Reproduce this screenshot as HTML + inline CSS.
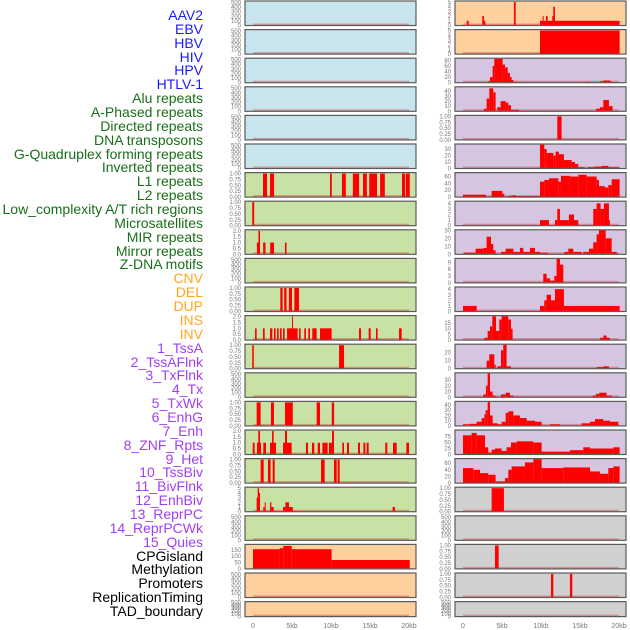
<!DOCTYPE html>
<html><head><meta charset="utf-8">
<style>
html,body{margin:0;padding:0;background:#fff;}
#wrap{position:relative;width:630px;height:630px;overflow:hidden;font-family:"Liberation Sans",sans-serif;}
.lab{position:absolute;right:427px;font-size:14px;line-height:14px;white-space:nowrap;}
</style></head>
<body>
<div id="wrap">
<svg id="chart" width="630" height="630" style="position:absolute;left:0;top:0"></svg>
</div>
<script>
// ---- labels ----
const labelNames = ["AAV2","EBV","HBV","HIV","HPV","HTLV-1","Alu repeats","A-Phased repeats","Directed repeats","DNA transposons","G-Quadruplex forming repeats","Inverted repeats","L1 repeats","L2 repeats","Low_complexity A/T rich regions","Microsatellites","MIR repeats","Mirror repeats","Z-DNA motifs","CNV","DEL","DUP","INS","INV","1_TssA","2_TssAFlnk","3_TxFlnk","4_Tx","5_TxWk","6_EnhG","7_Enh","8_ZNF_Rpts","9_Het","10_TssBiv","11_BivFlnk","12_EnhBiv","13_ReprPC","14_ReprPCWk","15_Quies","CPGisland","Methylation","Promoters","ReplicationTiming","TAD_boundary"];
const labelGroups = [0,0,0,0,0,0,1,1,1,1,1,1,1,1,1,1,1,1,1,2,2,2,2,2,3,3,3,3,3,3,3,3,3,3,3,3,3,3,3,4,4,4,4,4];
const groupColors = ["#1a1aff","#1a6e1a","#ffa520","#a040f0","#000000"];

// ---- x axis ----
const xTicks = [0,5,10,15,20];
const xTickLabels = ["0","5kb","10kb","15kb","20kb"];

// ---- left column panels: [start_kb, end_kb, value] ----
const E500 = [0,100,200,300,400,500];
const T1 = [0,0.25,0.5,0.75,1.0];
const T1L = ["0.00","0.25","0.50","0.75","1.00"];
const T2 = [0,0.5,1,1.5,2];
const T2L = ["0.0","0.5","1.0","1.5","2.0"];

const leftBg = ["#c8e4ec","#c8e4ec","#c8e4ec","#c8e4ec","#c8e4ec","#c8e4ec","#c8e1a4","#c8e1a4","#c8e1a4","#c8e1a4","#c8e1a4","#c8e1a4","#c8e1a4","#c8e1a4","#c8e1a4","#c8e1a4","#c8e1a4","#c8e1a4","#c8e1a4","#fdd09e","#fdd09e","#fdd09e"];
const leftYmax = [520,520,520,520,520,520,1.02,1.02,2.04,520,1.02,2.04,1.02,520,1.02,2.04,1.02,5.1,520,189,520,520];
const leftTicks = [E500,E500,E500,E500,E500,E500,T1,T1,T2,E500,T1,T2,T1,E500,T1,T2,T1,[0,1,2,3,4,5],E500,[0,50,100,150],E500,E500];
const leftTickLabels = [null,null,null,null,null,null,T1L,T1L,T2L,null,T1L,T2L,T1L,null,T1L,T2L,T1L,null,null,null,null,null];
const leftBars = [
 [],[],[],[],[],[],
 [[1.28,1.8,1],[2.18,2.7,1],[9.87,10.1,1],[11.4,11.9,1],[12.8,13.6,1],[14.1,14.6,1],[14.9,15.9,1],[16.3,16.9,1],[19.1,19.5,1],[19.6,20.1,1]],
 [[-0.1,0.15,1]],
 [[0.5,0.8,1],[0.7,0.9,2],[1.3,1.6,1],[2.2,2.7,1],[4.1,4.3,1]],
 [],
 [[3.5,3.8,1],[4.0,4.3,1],[4.6,5.0,1],[5.3,5.9,1]],
 [[0.26,0.47,1],[1.28,1.5,1],[2.18,2.48,1],[2.69,2.9,1],[3.08,3.29,1],[3.46,3.67,1],[3.85,4.06,1],[4.36,5.73,1],[5.0,5.12,2],[5.9,6.11,1],[6.58,6.79,1],[7.09,7.31,1],[7.6,8.16,1],[8.59,10.08,1],[13.59,13.85,1],[14.83,15.09,1],[15.77,15.98,1],[18.72,19.06,1]],
 [[-0.1,0.1,1],[11.03,11.67,1]],
 [],
 [[0.47,0.98,1],[2.3,2.69,1],[4.1,5.1,1],[8.16,8.59,1],[10.1,10.4,1]],
 [[-0.04,0.21,1],[0.51,1.03,1],[0.68,0.9,2],[1.32,1.67,1],[2.18,2.95,1],[2.44,2.65,2],[3.85,4.96,1],[4.1,4.36,2],[6.79,7.05,1],[7.56,7.86,1],[8.29,8.59,1],[8.89,9.57,1],[9.74,10.38,1],[10.13,10.38,2],[11.45,11.67,1],[12.05,12.31,1],[13.46,13.72,1],[14.15,14.4,1],[14.57,14.83,1],[16.96,17.22,1],[17.95,18.42,1],[19.66,20.0,1]],
 [[0.98,1.37,1],[1.92,2.26,1],[2.52,2.78,1],[8.72,9.19,1],[10.38,10.73,1],[10.85,11.11,1]],
 [[0.47,0.64,3],[0.6,0.77,5],[0.77,0.9,4],[1.32,1.5,1],[1.5,1.62,2],[2.18,2.35,2],[2.35,2.65,1],[3.85,4.15,1],[4.15,4.62,2],[4.62,5.1,1],[17.9,18.2,1]],
 [],
 [[0,3.41,155],[3.41,3.89,163],[3.89,4.96,181],[4.96,10.08,155],[10.08,20.1,70]],
 [],[]
];

// ---- right column panels ----
const rightBg = ["#fdd09e","#fdd09e","#d5c5e1","#d5c5e1","#d5c5e1","#d5c5e1","#d5c5e1","#d5c5e1","#d5c5e1","#d5c5e1","#d5c5e1","#d5c5e1","#d5c5e1","#d5c5e1","#d5c5e1","#d5c5e1","#d5c5e1","#d0d0d0","#d0d0d0","#d0d0d0","#d0d0d0","#d0d0d0"];
const rightYmax = [5.1,5.1,86,47,1.02,37,70,4.3,30,10.5,4.3,21,30,42,46,100,72,1.02,520,1.02,1.02,520];
const rightTicks = [[0,1,2,3,4,5],[0,1,2,3,4,5],[0,20,40,60,80],[0,10,20,30,40],T1,[0,10,20,30],[0,20,40,60],[0,1,2,3,4],[0,10,20,30],[0,3,6,9],[0,1,2,3,4],[0,5,10,15],[0,10,20],[0,10,20,30],[0,10,20,30,40],[0,25,50,75],[0,20,40,60],T1,E500,T1,T1,E500];
const rightTickLabels = [null,null,null,null,T1L,null,null,null,null,null,null,null,null,null,null,null,null,T1L,null,T1L,T1L,null];
const rightBars = [
 [[0.47,0.73,1],[2.47,2.69,2],[2.69,2.86,1],[6.53,6.75,5],[9.87,20.08,1],[10.21,10.34,2],[10.64,10.85,2],[11.45,11.66,2],[11.58,11.79,4]],
 [[9.87,20.08,5]],
 [[3.16,3.46,5],[3.46,3.8,20],[3.8,4.01,60],[4.01,5.08,86],[5.08,5.38,65],[5.38,5.72,55],[5.72,6.02,35],[6.02,6.23,20],[6.23,6.45,10],[6.45,7.52,3],[15.76,16.41,3],[17.56,17.99,5],[17.99,18.84,8],[18.84,19.06,5]],
 [[2.69,3.03,5],[3.03,3.37,25],[3.37,3.88,45],[3.88,4.18,37],[4.4,4.82,8],[4.82,5.47,20],[5.47,5.81,17],[5.81,6.15,12],[6.15,7.18,3],[17.05,17.56,5],[17.56,17.99,8],[17.99,18.71,22],[18.71,19.18,10]],
 [[12.09,12.64,1]],
 [[9.87,10.42,37],[10.42,10.72,30],[10.72,11.58,24],[11.58,11.88,20],[11.88,12.3,26],[12.3,12.94,22],[12.94,13.93,13],[13.93,14.35,10],[14.35,14.78,7],[14.78,15.63,2],[15.98,16.92,2],[16.92,17.77,3],[17.77,18.63,4],[18.63,20.08,2]],
 [[0,2.94,7],[3.67,5.04,18],[5.04,5.29,10],[5.81,6.23,3],[6.23,6.79,5],[6.79,9.87,3],[9.87,10.42,45],[10.42,11.02,50],[11.02,12.22,55],[12.22,12.56,45],[12.56,13.71,62],[13.71,14.78,60],[14.78,15.85,65],[15.85,17.13,60],[17.13,17.43,50],[17.43,18.2,32],[18.2,18.63,28],[18.63,19.06,35],[19.06,20.08,52]],
 [[9.87,11.02,1],[11.79,12.09,1],[12.09,12.43,3],[12.43,13.58,1],[13.58,14.23,2],[14.23,14.78,1],[16.7,17.13,3],[17.13,17.64,4],[17.64,18.07,3],[18.07,18.71,4],[18.71,18.84,1]],
 [[0.12,1.62,2],[1.62,2.6,7],[2.6,3.03,8],[3.03,3.59,22],[3.59,3.88,13],[3.88,4.18,5],[4.87,5.47,3],[5.47,6.45,7],[6.45,7.3,3],[7.3,7.73,8],[7.73,8.58,3],[8.58,9.23,8],[9.23,9.87,3],[9.87,10.85,2],[12.99,13.5,3],[13.5,14.14,7],[14.14,15.21,3],[15.42,16.15,3],[16.15,16.7,7],[16.7,17.13,15],[17.13,17.43,25],[17.43,18.29,30],[18.29,19.06,20],[19.06,19.7,3]],
 [[10.29,10.72,4],[10.72,11.15,2],[11.15,11.7,1],[11.7,12.0,3],[12.0,12.43,10.5],[12.43,12.86,8]],
 [[0,1.75,1],[9.87,10.42,1],[10.42,10.72,2],[10.72,11.28,3],[11.28,11.79,2],[11.79,12.94,4],[12.94,20.08,1]],
 [[2.73,3.16,2],[3.16,3.46,8],[3.46,3.76,12],[3.76,4.23,21],[4.23,4.65,8],[4.65,4.95,18],[4.95,5.81,21],[5.81,6.15,18],[6.15,6.36,10],[17.56,17.99,2],[17.99,18.41,4],[18.41,18.84,2]],
 [[3.03,3.37,10],[3.37,4.01,18],[4.01,4.18,5],[4.4,4.87,3],[4.87,5.16,23],[5.16,5.59,30],[5.59,6.15,3],[17.13,17.99,2],[17.99,18.71,3]],
 [[2.6,2.94,5],[2.94,3.16,20],[3.16,3.46,42],[3.46,3.8,10],[3.8,4.18,3],[4.87,5.47,5],[5.47,6.02,8],[6.02,6.45,3],[10.29,11.49,1],[16.62,17.05,3],[17.05,17.47,6],[17.47,18.41,8],[18.41,19.06,3]],
 [[0,0.89,3],[0.89,1.75,4],[1.75,2.39,8],[2.39,2.73,15],[2.73,2.9,22],[2.9,3.16,30],[3.16,3.46,46],[3.46,3.8,20],[3.8,4.44,5],[4.44,4.95,3],[4.95,5.47,8],[5.47,5.81,25],[5.81,6.45,28],[6.45,7.3,20],[7.3,8.16,15],[8.16,9.23,10],[9.23,10.08,8],[10.08,11.15,1],[11.15,12.43,3],[12.43,15.21,1],[15.21,16.28,5],[16.28,16.92,8],[16.92,17.99,13],[17.99,18.84,10],[18.84,19.91,8]],
 [[0,1.11,80],[1.11,1.75,90],[1.75,2.82,80],[2.82,3.24,30],[3.24,3.67,8],[3.67,4.1,20],[4.1,4.95,25],[4.95,5.59,15],[5.59,6.15,30],[6.15,6.88,50],[6.88,9.01,55],[9.01,10.08,50],[10.08,13.71,12],[13.71,15.42,18],[15.42,16.28,30],[16.28,19.27,25],[19.27,20.08,30]],
 [[0,1.32,45],[1.32,2.18,40],[2.18,3.24,30],[3.24,4.18,25],[4.18,5.38,5],[5.38,5.81,15],[5.81,6.23,40],[6.23,7.94,50],[7.94,9.01,62],[9.01,10.08,72],[10.08,12.86,45],[12.86,16.28,47],[16.28,17.56,35],[17.56,18.63,28],[18.63,19.27,45],[19.27,20.08,50]],
 [[3.67,5.25,1]],
 [],
 [[4.1,4.57,1]],
 [[11.28,11.58,1],[13.71,14.01,1]],
 []
];

// ---- render ----
const NS = "http://www.w3.org/2000/svg";
const svg = document.getElementById("chart");
const wrap = document.getElementById("wrap");
const PX_PER_KB = 7.8;
const colX = [{left:245,right:416,zero:253},{left:455,right:626,zero:463}];
function rowTop(i){ return 1 + i*28.6; }
function rowH(i){ return i===21 ? 15 : 24.5; }
function xScale(col,kb){ return colX[col].zero + kb*PX_PER_KB; }
function yScale(i,ymax,v){ const t=rowTop(i), h=rowH(i); return t+h - (v/ymax)*(h-0.5); }
function mk(tag, attrs){ const e=document.createElementNS(NS,tag); for(const k in attrs) e.setAttribute(k,attrs[k]); svg.appendChild(e); return e; }
function fmt(v){ return String(v); }

labelNames.forEach((name,k)=>{
  const d=document.createElement('div');
  d.className='lab';
  d.textContent=name;
  d.style.top=(15+k*13.86-7)+'px';
  d.style.color=groupColors[labelGroups[k]];
  
  
  wrap.appendChild(d);
});

function drawPanel(col,i,bg,ymax,ticks,tickLabels,bars){
  const c=colX[col], t=rowTop(i), h=rowH(i);
  const r=mk('rect',{x:c.left,y:t,width:c.right-c.left,height:h,fill:bg,stroke:'#5a5a5a','stroke-width':1.2});
  
  
  const base=mk('rect',{x:xScale(col,0),y:t+h-2,width:20*PX_PER_KB,height:1.5,fill:'rgba(200,0,0,0.3)'});
  
  
  bars.forEach(b=>{
    const x1=Math.max(xScale(col,b[0]),c.left+0.6), x2=Math.min(xScale(col,b[1]),c.right-0.6);
    const y=Math.max(yScale(i,ymax,b[2]),t+0.6);
    const br=mk('rect',{x:x1,y:y,width:Math.max(x2-x1,1),height:t+h-0.6-y,fill:'#ff0000'});
    
    
  });
  ticks.forEach((v,j)=>{
    const tx=mk('text',{x:c.left-4,y:yScale(i,ymax,v)+2,'font-size':6,fill:'#777','text-anchor':'end','font-family':'Liberation Sans, sans-serif'});
    tx.textContent = tickLabels ? tickLabels[j] : fmt(v);
    
    
  });
}
for(let i=0;i<22;i++){
  drawPanel(0,i,leftBg[i],leftYmax[i],leftTicks[i],leftTickLabels[i],leftBars[i]);
  drawPanel(1,i,rightBg[i],rightYmax[i],rightTicks[i],rightTickLabels[i],rightBars[i]);
}
[0,1].forEach(col=>{
  xTicks.forEach((v,j)=>{
    const tx=mk('text',{x:xScale(col,v),y:628,'font-size':7,fill:'#777','text-anchor':'middle','font-family':'Liberation Sans, sans-serif'});
    tx.textContent=xTickLabels[j];
    
    
  });
});
</script>
</body></html>
